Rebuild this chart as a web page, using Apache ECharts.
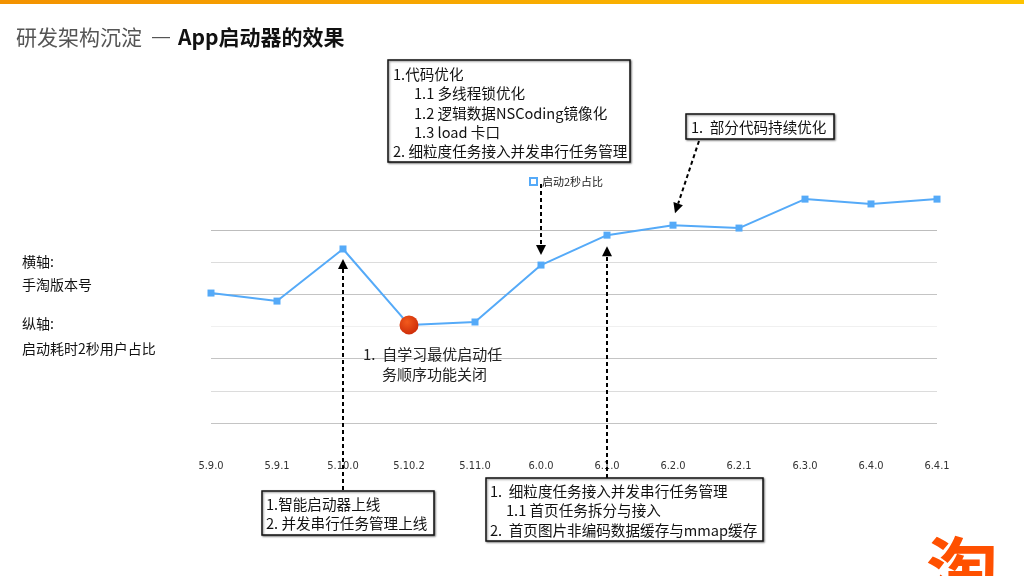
<!DOCTYPE html>
<html>
<head>
<meta charset="utf-8">
<script src="https://cdn.jsdelivr.net/npm/echarts@6/dist/echarts.min.js"></script>
<style>
  html, body { margin: 0; padding: 0; background: #fff; }
  #main { width: 1024px; height: 576px; }
</style>
</head>
<body>
<div id="main"></div>
<script>
// versions on the x axis
var versions = ['5.9.0', '5.9.1', '5.10.0', '5.10.2', '5.11.0', '6.0.0', '6.1.0', '6.2.0', '6.2.1', '6.3.0', '6.4.0', '6.4.1'];
// share of users with 2s launch (arbitrary units)
var ratio = [4.04, 3.79, 5.41, 3.05, 3.14, 4.91, 5.84, 6.15, 6.06, 6.96, 6.81, 6.96];
var seriesName = '启动2秒占比';
var lowIndex = 3; // red dot: self-learning order turned off

var FONT = '"Noto Sans CJK SC", "Noto Sans", sans-serif';
var BLUE = '#55aaf8';
var BOXFONT = 14.6;

var chart = echarts.init(document.getElementById('main'));

var points = ratio.map(function (v, i) {
  if (i === lowIndex) {
    return {
      value: v,
      symbol: 'circle',
      symbolSize: 19,
      itemStyle: {
        color: new echarts.graphic.RadialGradient(0.4, 0.35, 0.7, [
          { offset: 0, color: '#f25a1c' },
          { offset: 1, color: '#cc2a08' }
        ])
      }
    };
  }
  return v;
});

var option = {
  animation: false,
  textStyle: { fontFamily: FONT },
  grid: { left: 211, right: 87, top: 230, bottom: 153 },
  legend: {
    left: 524, top: 171,
    icon: 'rect', itemWidth: 7, itemHeight: 7, itemGap: 4,
    itemStyle: { color: '#fff', borderColor: BLUE, borderWidth: 2 },
    textStyle: { fontSize: 11, color: '#222', fontFamily: FONT },
    data: [seriesName]
  },
  xAxis: {
    type: 'category',
    data: versions,
    boundaryGap: false,
    axisLine: { show: false },
    axisTick: { show: false },
    axisLabel: { margin: 38, fontSize: 11, color: '#333', fontFamily: '"Liberation Sans Narrow", "DejaVu Sans Condensed", sans-serif' }
  },
  yAxis: {
    type: 'value',
    min: 0, max: 6, interval: 1,
    axisLine: { show: false },
    axisTick: { show: false },
    axisLabel: { show: false },
    splitLine: {
      lineStyle: {
        width: 1,
        color: ['#c4c4c4', '#dcdcdc', '#c4c4c4', '#f0f0f0', '#c4c4c4', '#dcdcdc', '#bdbdbd']
      }
    }
  },
  series: [{
    name: seriesName,
    type: 'line',
    data: points,
    clip: false,
    symbol: 'rect',
    symbolSize: 7,
    lineStyle: { color: BLUE, width: 2 },
    itemStyle: { color: BLUE }
  }]
};

chart.setOption(option);

// annotation helpers
function arrow(x1, y1, x2, y2) {
  var dx = x2 - x1, dy = y2 - y1;
  var len = Math.sqrt(dx * dx + dy * dy);
  var ux = dx / len, uy = dy / len;
  var bx = x2 - ux * 10, by = y2 - uy * 10;
  return [
    {
      type: 'line', z: 10,
      shape: { x1: x1, y1: y1, x2: bx, y2: by },
      style: { stroke: '#000', lineWidth: 2, lineDash: [4, 3] }
    },
    {
      type: 'polygon', z: 10,
      shape: { points: [[x2, y2], [bx - uy * 5, by + ux * 5], [bx + uy * 5, by - ux * 5]] },
      style: { fill: '#000' }
    }
  ];
}

function box(x, y, w, h) {
  return {
    type: 'rect', z: 10,
    shape: { x: x, y: y, width: w, height: h },
    style: {
      fill: '#fff', stroke: '#111', lineWidth: 1.5,
      shadowBlur: 2, shadowColor: 'rgba(0,0,0,0.45)', shadowOffsetX: 1, shadowOffsetY: 1
    }
  };
}

function txt(s, x, y, size, color, weight, family) {
  return {
    type: 'text', z: 11,
    style: {
      text: s, x: x, y: y,
      fill: color || '#111',
      fontSize: size || BOXFONT,
      fontWeight: weight || 'normal',
      fontFamily: family || FONT,
      verticalAlign: 'middle'
    }
  };
}

function px(i) {
  return chart.convertToPixel({ seriesIndex: 0 }, [i, ratio[i]]);
}

var p2 = px(2), p5 = px(5), p6 = px(6), p7 = px(7);

var g = [];
// top orange bar
g.push({
  type: 'rect', shape: { x: 0, y: 0, width: 1024, height: 4 },
  style: {
    fill: new echarts.graphic.LinearGradient(0, 0, 1, 0, [
      { offset: 0, color: '#f39200' },
      { offset: 1, color: '#fdc300' }
    ])
  }
});
// title
g.push(txt('研发架构沉淀', 16, 37, 21, '#555'));
g.push({
  type: 'rect', shape: { x: 152, y: 37, width: 18, height: 1.2 },
  style: { fill: '#555' }
});
g.push(txt('App启动器的效果', 178, 37, 21, '#111', 'bold'));

// axis notes on the left
g.push(txt('横轴:', 22, 262, 14, '#111'));
g.push(txt('手淘版本号', 22, 285, 14, '#111'));
g.push(txt('纵轴:', 22, 324, 14, '#111'));
g.push(txt('启动耗时2秒用户占比', 22, 349, 14, '#111'));

// arrows
g = g.concat(arrow(p2[0], 490, p2[0], p2[1] + 10));
g = g.concat(arrow(p5[0], 184, p5[0], p5[1] - 10));
g = g.concat(arrow(p6[0], 478, p6[0], p6[1] + 11));
g = g.concat(arrow(p7[0] + 26, 141, p7[0] + 2, p7[1] - 12));

// box: top
g.push(box(388, 60, 242, 102));
g.push(txt('1.代码优化', 393, 74));
g.push(txt('1.1 多线程锁优化', 414, 93));
g.push(txt('1.2 逻辑数据NSCoding镜像化', 414, 113));
g.push(txt('1.3 load 卡口', 414, 132));
g.push(txt('2. 细粒度任务接入并发串行任务管理', 393, 151));

// box: right
g.push(box(686, 114, 148, 25));
g.push(txt('1.  部分代码持续优化', 691, 127));

// box: bottom left
g.push(box(262, 491, 172, 44));
g.push(txt('1.智能启动器上线', 266, 504));
g.push(txt('2. 并发串行任务管理上线', 266, 523));

// box: bottom right
g.push(box(486, 478, 277, 63));
g.push(txt('1.  细粒度任务接入并发串行任务管理', 490, 491));
g.push(txt('1.1 首页任务拆分与接入', 506, 510));
g.push(txt('2.  首页图片非编码数据缓存与mmap缓存', 490, 530));

// note under the red dot
g.push(txt('1.  自学习最优启动任', 363, 354, 15, '#222'));
g.push(txt('务顺序功能关闭', 382, 374, 15, '#222'));

// logo corner
g.push({
  type: 'text',
  style: {
    text: '淘', x: 926, y: 534, fill: '#ff5000',
    fontSize: 72, fontWeight: 'bold', fontFamily: FONT, verticalAlign: 'top'
  }
});

chart.setOption({ graphic: g });
</script>
</body>
</html>
